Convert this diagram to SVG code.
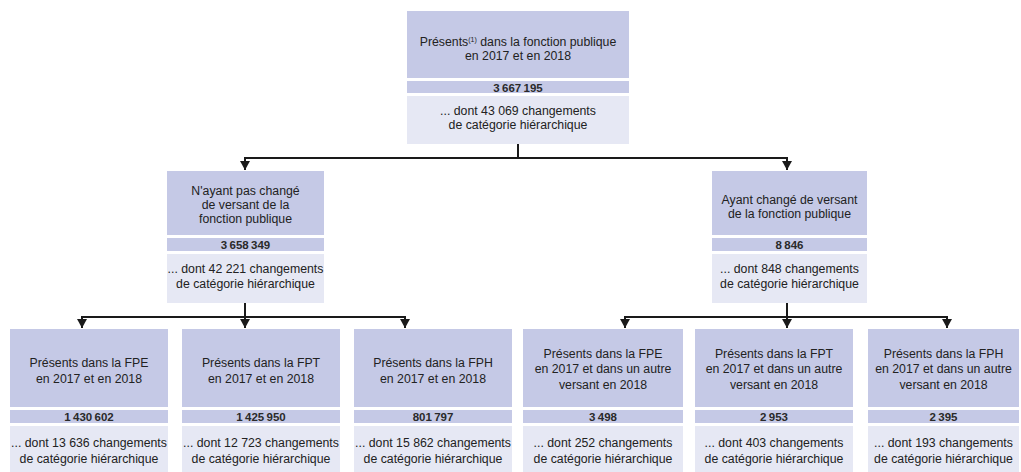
<svg xmlns="http://www.w3.org/2000/svg" width="1021" height="472" viewBox="0 0 1021 472">
<defs>
<marker id="arr" markerUnits="userSpaceOnUse" markerWidth="10" markerHeight="10" refX="9" refY="5" orient="auto" viewBox="0 0 10 10">
<path d="M0,0 L9,5 L0,10 Z" fill="#1a1a1a"/>
</marker>
<style>
.h{fill:#c5c9e6}
.b{fill:#e6e8f4}
text{font-family:"Liberation Sans","Noto Sans",sans-serif;font-size:12.3px;fill:#222;text-anchor:middle}
.n{font-size:11.5px;font-weight:bold;fill:#2a2a2a}
.c{fill:none;stroke:#1a1a1a;stroke-width:2}
</style>
</defs>
<rect width="1021" height="472" fill="#fff"/>
<g id="connectors">
<path class="c" d="M518,144 V158 M244,158 H788"/>
<path class="c" d="M245,158 V170" marker-end="url(#arr)"/>
<path class="c" d="M787,158 V170" marker-end="url(#arr)"/>
<path class="c" d="M245,303 V317 M81,317 H406"/>
<path class="c" d="M82,317 V328" marker-end="url(#arr)"/>
<path class="c" d="M245,317 V328" marker-end="url(#arr)"/>
<path class="c" d="M405,317 V328" marker-end="url(#arr)"/>
<path class="c" d="M787,303 V317 M624,317 H948"/>
<path class="c" d="M625,317 V328" marker-end="url(#arr)"/>
<path class="c" d="M787,317 V328" marker-end="url(#arr)"/>
<path class="c" d="M947,317 V328" marker-end="url(#arr)"/>
</g>
<g id="top">
<rect class="h" x="407" y="11" width="222" height="67"/>
<rect class="h" x="407" y="81" width="222" height="12"/>
<rect class="b" x="407" y="96" width="222" height="48"/>
<text x="518" y="46">Présents<tspan font-size="7" dy="-4">(1)</tspan><tspan dy="4"> dans la fonction publique</tspan></text>
<text x="518" y="60">en 2017 et en 2018</text>
<text class="n" x="518" y="91.5">3&#8239;667&#8239;195</text>
<text x="518" y="115">... dont 43 069 changements</text>
<text x="518" y="129">de catégorie hiérarchique</text>
</g>
<g id="mid-left">
<rect class="h" x="167" y="171" width="157" height="64"/>
<rect class="h" x="167" y="238" width="157" height="13"/>
<rect class="b" x="167" y="254" width="157" height="49"/>
<text x="245.5" y="195">N'ayant pas changé</text>
<text x="245.5" y="209">de versant de la</text>
<text x="245.5" y="223">fonction publique</text>
<text class="n" x="245.5" y="249">3&#8239;658&#8239;349</text>
<text x="245.5" y="273">... dont 42 221 changements</text>
<text x="245.5" y="288">de catégorie hiérarchique</text>
</g>
<g id="mid-right">
<rect class="h" x="712" y="171" width="155" height="64"/>
<rect class="h" x="712" y="238" width="155" height="13"/>
<rect class="b" x="712" y="254" width="155" height="49"/>
<text x="789.5" y="204">Ayant changé de versant</text>
<text x="789.5" y="218">de la fonction publique</text>
<text class="n" x="789.5" y="249">8&#8239;846</text>
<text x="789.5" y="273">... dont 848 changements</text>
<text x="789.5" y="288">de catégorie hiérarchique</text>
</g>
<g id="fpe">
<rect class="h" x="10" y="329" width="158" height="78"/>
<rect class="h" x="10" y="410" width="158" height="13"/>
<rect class="b" x="10" y="426" width="158" height="46"/>
<text x="89" y="367">Présents dans la FPE</text>
<text x="89" y="383">en 2017 et en 2018</text>
<text class="n" x="89" y="421">1&#8239;430&#8239;602</text>
<text x="89" y="447">... dont 13 636 changements</text>
<text x="89" y="463">de catégorie hiérarchique</text>
</g>
<g id="fpt">
<rect class="h" x="182" y="329" width="158" height="78"/>
<rect class="h" x="182" y="410" width="158" height="13"/>
<rect class="b" x="182" y="426" width="158" height="46"/>
<text x="261" y="367">Présents dans la FPT</text>
<text x="261" y="383">en 2017 et en 2018</text>
<text class="n" x="261" y="421">1&#8239;425&#8239;950</text>
<text x="261" y="447">... dont 12 723 changements</text>
<text x="261" y="463">de catégorie hiérarchique</text>
</g>
<g id="fph">
<rect class="h" x="354" y="329" width="158" height="78"/>
<rect class="h" x="354" y="410" width="158" height="13"/>
<rect class="b" x="354" y="426" width="158" height="46"/>
<text x="433" y="367">Présents dans la FPH</text>
<text x="433" y="383">en 2017 et en 2018</text>
<text class="n" x="433" y="421">801&#8239;797</text>
<text x="433" y="447">... dont 15 862 changements</text>
<text x="433" y="463">de catégorie hiérarchique</text>
</g>
<g id="fpe-autre">
<rect class="h" x="523" y="329" width="160" height="78"/>
<rect class="h" x="523" y="410" width="160" height="13"/>
<rect class="b" x="523" y="426" width="160" height="46"/>
<text x="603" y="358">Présents dans la FPE</text>
<text x="603" y="373">en 2017 et dans un autre</text>
<text x="603" y="389">versant en 2018</text>
<text class="n" x="603" y="421">3&#8239;498</text>
<text x="603" y="447">... dont 252 changements</text>
<text x="603" y="463">de catégorie hiérarchique</text>
</g>
<g id="fpt-autre">
<rect class="h" x="695" y="329" width="158" height="78"/>
<rect class="h" x="695" y="410" width="158" height="13"/>
<rect class="b" x="695" y="426" width="158" height="46"/>
<text x="774" y="358">Présents dans la FPT</text>
<text x="774" y="373">en 2017 et dans un autre</text>
<text x="774" y="389">versant en 2018</text>
<text class="n" x="774" y="421">2&#8239;953</text>
<text x="774" y="447">... dont 403 changements</text>
<text x="774" y="463">de catégorie hiérarchique</text>
</g>
<g id="fph-autre">
<rect class="h" x="868" y="329" width="151" height="78"/>
<rect class="h" x="868" y="410" width="151" height="13"/>
<rect class="b" x="868" y="426" width="151" height="46"/>
<text x="943.5" y="358">Présents dans la FPH</text>
<text x="943.5" y="373">en 2017 et dans un autre</text>
<text x="943.5" y="389">versant en 2018</text>
<text class="n" x="943.5" y="421">2&#8239;395</text>
<text x="943.5" y="447">... dont 193 changements</text>
<text x="943.5" y="463">de catégorie hiérarchique</text>
</g>
</svg>
